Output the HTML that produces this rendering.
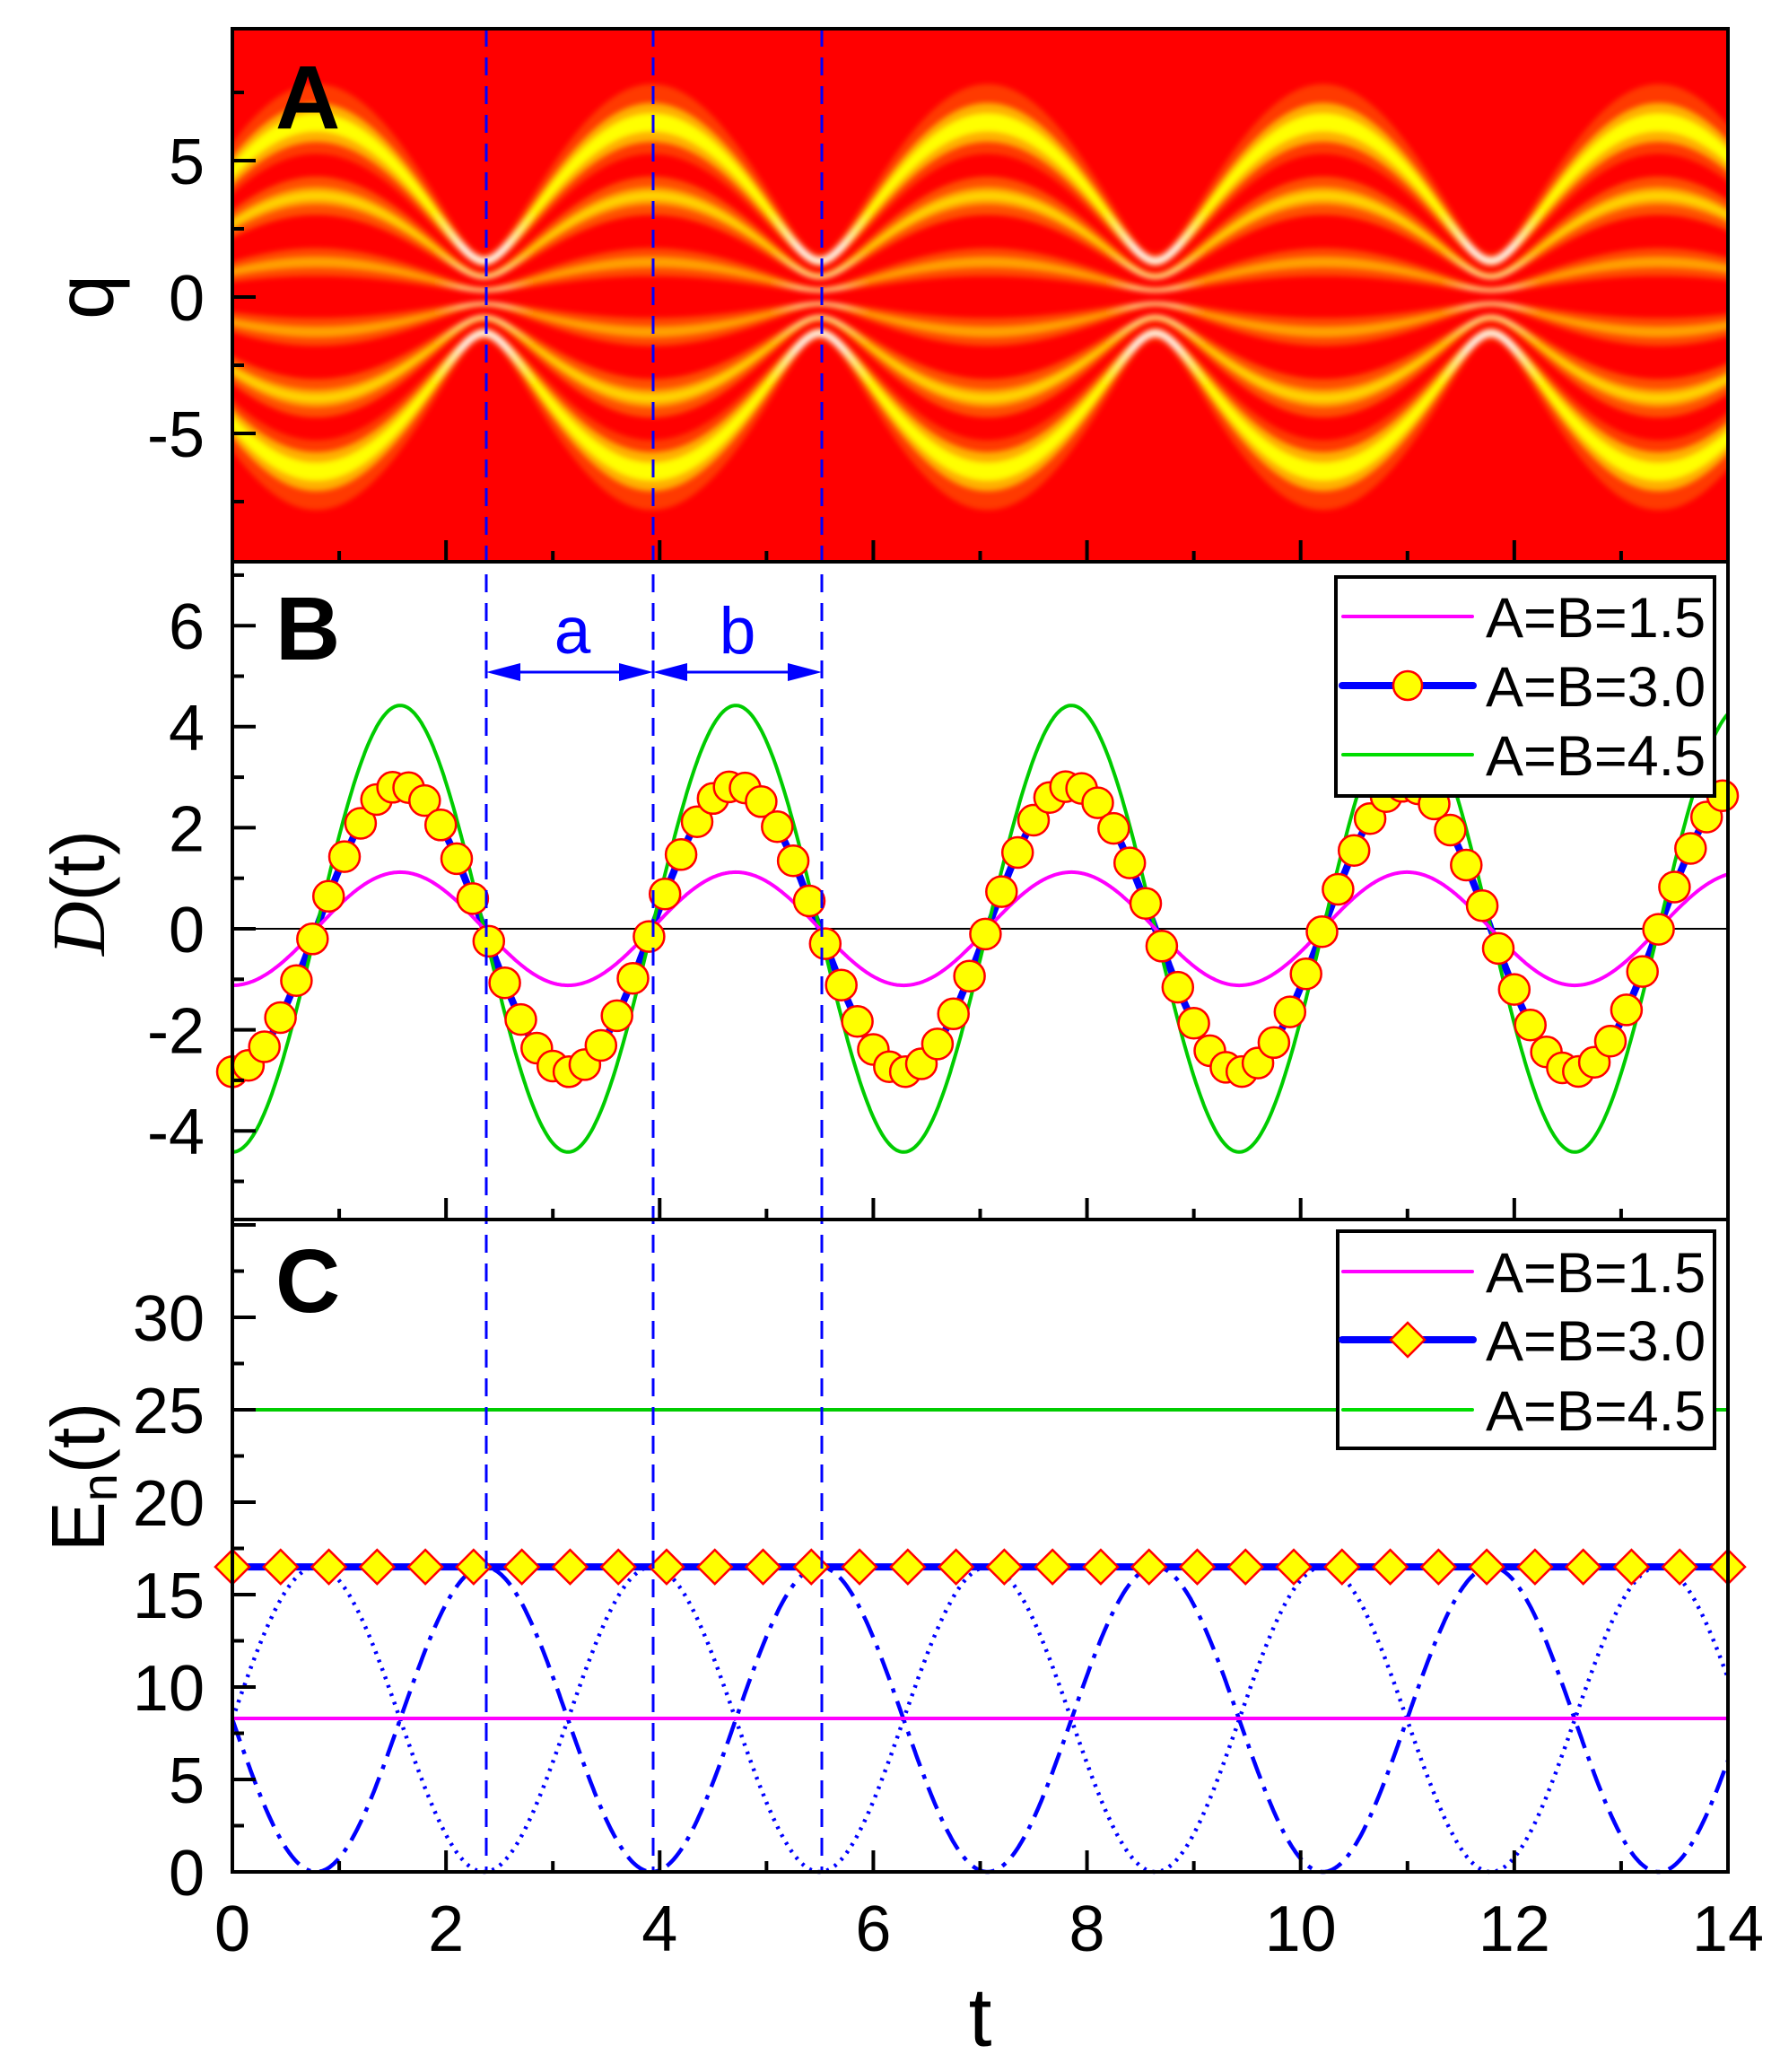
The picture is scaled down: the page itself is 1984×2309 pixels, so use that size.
<!DOCTYPE html>
<html><head><meta charset="utf-8"><style>
html,body{margin:0;padding:0;background:#fff;}
svg{display:block;font-family:"Liberation Sans",Arial,sans-serif;}
</style></head><body>
<svg id="s" width="1984" height="2309" viewBox="0 0 1984 2309" xmlns="http://www.w3.org/2000/svg"></svg>
<script>
const X=t=>259+t*119.07;
const YA=q=>331-q*30.4, YB=v=>1035-v*56.3, YC=v=>2086-v*20.6;
let s='';
s+='<defs><clipPath id="ca"><rect x="259" y="32" width="1667" height="594"/></clipPath><filter id="bl" x="-5%" y="-5%" width="110%" height="110%"><feGaussianBlur stdDeviation="3"/></filter></defs>';
s+='<rect x="259" y="32" width="1667" height="594" fill="#ff0000"/>';
const W=t=>{const sv=(1+Math.sin(2*t))/2;return Math.sqrt(1.32*1.32+(6.4*6.4-1.32*1.32)*sv);};
function band(u,h,col,op){
  let up=[],dn=[];
  for(let t=-0.1;t<=14.1;t+=0.02){const w=W(t);up.push(X(t).toFixed(1)+','+YA((u+h)*w).toFixed(1));dn.unshift(X(t).toFixed(1)+','+YA((u-h)*w).toFixed(1));}
  return '<polygon points="'+up.join(' ')+' '+dn.join(' ')+'" fill="'+col+'" fill-opacity="'+op+'"/>';
}
let g='<g clip-path="url(#ca)"><g filter="url(#bl)">';
for(const sg of [1,-1]){
  g+=band(sg*1.02,0.2,'#ff6000',0.6);
  g+=band(sg*1,0.11,'#ffb000',1);
  g+=band(sg*1,0.05,'#ffff00',1);
  g+=band(sg*0.58,0.11,'#ff7000',0.7);
  g+=band(sg*0.58,0.05,'#ffa000',1);
  g+=band(sg*0.58,0.02,'#ffd800',1);
  g+=band(sg*0.2,0.08,'#ff7000',0.65);
  g+=band(sg*0.2,0.03,'#ffa000',1);
}
for(const u of [1,-1,0.55,-0.55,0.18,-0.18]){
  for(let t=0;t<14;t+=0.03){
    const w1=W(t),w2=W(t+0.03),wm=(w1+w2)/2;
    const op=Math.max(0,Math.min(1,(3.2-wm)/1.4))*(Math.abs(u)>0.9?1:0.8);
    if(op>0.02) g+='<line x1="'+X(t).toFixed(1)+'" y1="'+YA(u*w1).toFixed(1)+'" x2="'+X(t+0.03).toFixed(1)+'" y2="'+YA(u*w2).toFixed(1)+'" stroke="'+(Math.abs(u)>0.9?'#ffffff':'#ffffc0')+'" stroke-width="'+(Math.abs(u)>0.9?5:3)+'" stroke-opacity="'+op.toFixed(2)+'"/>';
  }
}
g+='</g></g>';
s+=g;
function path(f,Y,a,b,st){let d='';for(let t=a;t<=b+1e-9;t+=0.01){d+=(d?'L':'M')+X(t).toFixed(1)+','+Y(f(t)).toFixed(1);}return '<path d="'+d+'" fill="none" '+st+'/>';}
s+='<line x1="259" y1="'+YB(0)+'" x2="1926" y2="'+YB(0)+'" stroke="#000" stroke-width="2"/>';
s+=path(t=>-2.83*Math.cos(2*t),YB,0,14,'stroke="#0000ff" stroke-width="8"');
s+=path(t=>-4.42*Math.cos(2*t),YB,0,14,'stroke="#00cc00" stroke-width="4"');
s+=path(t=>-1.12*Math.cos(2*t),YB,0,14,'stroke="#ff00ff" stroke-width="4"');
for(let k=0;k<=93;k++){const t=k*0.15;s+='<circle cx="'+X(t).toFixed(1)+'" cy="'+YB(-2.83*Math.cos(2*t)).toFixed(1)+'" r="17" fill="#ffff00" stroke="#ff0000" stroke-width="2.5"/>';}
s+=path(t=>8.25*(1+Math.sin(2*t)),YC,0,14,'stroke="#0000ff" stroke-width="4.5" stroke-dasharray="3 7"');
s+=path(t=>8.25*(1-Math.sin(2*t)),YC,0,14,'stroke="#0000ff" stroke-width="4.5" stroke-dasharray="26 10 5 10"');
s+='<line x1="259" y1="'+YC(8.3)+'" x2="1926" y2="'+YC(8.3)+'" stroke="#ff00ff" stroke-width="4"/>';
s+='<line x1="259" y1="'+YC(25)+'" x2="1926" y2="'+YC(25)+'" stroke="#00cc00" stroke-width="4"/>';
s+='<line x1="259" y1="'+YC(16.5)+'" x2="1926" y2="'+YC(16.5)+'" stroke="#0000ff" stroke-width="8"/>';
for(let k=0;k<=31;k++){const x=X(k*14/31),y=YC(16.5);s+='<polygon points="'+x+','+(y-19)+' '+(x+19)+','+y+' '+x+','+(y+19)+' '+(x-19)+','+y+'" fill="#ffff00" stroke="#ff0000" stroke-width="2.5"/>';}
for(const x of [542,728,916]) s+='<line x1="'+x+'" y1="32" x2="'+x+'" y2="2086" stroke="#0000ff" stroke-width="3" stroke-dasharray="20 12"/>';
function arr(x1,x2,y){return '<line x1="'+(x1+30)+'" y1="'+y+'" x2="'+(x2-30)+'" y2="'+y+'" stroke="#0000ff" stroke-width="3"/>'+
 '<polygon points="'+x1+','+y+' '+(x1+38)+','+(y-10)+' '+(x1+38)+','+(y+10)+'" fill="#0000ff"/>'+
 '<polygon points="'+x2+','+y+' '+(x2-38)+','+(y-10)+' '+(x2-38)+','+(y+10)+'" fill="#0000ff"/>';}
s+=arr(542,728,749)+arr(728,916,749);
s+='<text x="638" y="728" font-size="73" fill="#0000ff" text-anchor="middle">a</text>';
s+='<text x="822" y="728" font-size="73" fill="#0000ff" text-anchor="middle">b</text>';
s+='<rect x="259" y="32" width="1667" height="2054" fill="none" stroke="#000" stroke-width="4"/>';
s+='<line x1="259" y1="626" x2="1926" y2="626" stroke="#000" stroke-width="4"/>';
s+='<line x1="259" y1="1359" x2="1926" y2="1359" stroke="#000" stroke-width="4"/>';
function xt(yb){let r='';for(let t=1;t<14;t++){const L=t%2==0?24:12;r+='<line x1="'+X(t)+'" y1="'+yb+'" x2="'+X(t)+'" y2="'+(yb-L)+'" stroke="#000" stroke-width="4"/>';}return r;}
s+=xt(626)+xt(1359)+xt(2086);
function yt(vals,Y,maj){let r='';for(const v of vals){const L=maj(v)?26:13;r+='<line x1="259" y1="'+Y(v)+'" x2="'+(259+L)+'" y2="'+Y(v)+'" stroke="#000" stroke-width="4"/>';}return r;}
s+=yt([-7.5,-5,-2.5,0,2.5,5,7.5],YA,v=>v%5==0);
s+=yt([-5,-4,-3,-2,-1,0,1,2,3,4,5,6,7],YB,v=>v%2==0);
let cv=[];for(let v=2.5;v<=35;v+=2.5)cv.push(v);
s+=yt(cv,YC,v=>v%5==0);
function yl(vals,Y){let r='';for(const v of vals){r+='<text x="228" y="'+(Y(v)+26)+'" font-size="72" text-anchor="end">'+v+'</text>';}return r;}
s+=yl([-5,0,5],YA)+yl([-4,-2,0,2,4,6],YB)+yl([0,5,10,15,20,25,30],YC);
for(let t=0;t<=14;t+=2) s+='<text x="'+X(t)+'" y="2174" font-size="72" text-anchor="middle">'+t+'</text>';
s+='<text x="'+X(7)+'" y="2280" font-size="93" text-anchor="middle">t</text>';
s+='<text transform="translate(126,331) rotate(-90)" font-size="90" text-anchor="middle">q</text>';
s+='<text transform="translate(116,995) rotate(-90)" font-size="84" text-anchor="middle"><tspan font-family="Liberation Serif,serif" font-style="italic">D</tspan>(t)</text>';
s+='<text transform="translate(116,1646) rotate(-90)" font-size="84" text-anchor="middle">E<tspan font-size="56" dy="14">n</tspan><tspan dy="-14">(t)</tspan></text>';
s+='<text x="307" y="143" font-size="100" font-weight="bold">A</text>';
s+='<text x="307" y="735" font-size="100" font-weight="bold">B</text>';
s+='<text x="307" y="1462" font-size="100" font-weight="bold">C</text>';
function leg(x1,x2,y1,y2,rows,mk){let r='<rect x="'+x1+'" y="'+y1+'" width="'+(x2-x1)+'" height="'+(y2-y1)+'" fill="#fff" stroke="#000" stroke-width="4"/>';
 r+='<line x1="1497" y1="'+rows[0]+'" x2="1641" y2="'+rows[0]+'" stroke="#ff00ff" stroke-width="4" stroke-linecap="round"/>';
 r+='<line x1="1496" y1="'+rows[1]+'" x2="1642" y2="'+rows[1]+'" stroke="#0000ff" stroke-width="8" stroke-linecap="round"/>';
 r+=mk(1569,rows[1]);
 r+='<line x1="1497" y1="'+rows[2]+'" x2="1641" y2="'+rows[2]+'" stroke="#00dd00" stroke-width="4" stroke-linecap="round"/>';
 const lab=['A=B=1.5','A=B=3.0','A=B=4.5'];
 for(let i=0;i<3;i++) r+='<text x="1656" y="'+(rows[i]+23)+'" font-size="63">'+lab[i]+'</text>';
 return r;}
s+=leg(1489,1911,643,887,[687,764,841],(x,y)=>'<circle cx="'+x+'" cy="'+y+'" r="16" fill="#ffff00" stroke="#ff0000" stroke-width="2.5"/>');
s+=leg(1491,1911,1372,1614,[1417,1493,1571],(x,y)=>'<polygon points="'+x+','+(y-19)+' '+(x+19)+','+y+' '+x+','+(y+19)+' '+(x-19)+','+y+'" fill="#ffff00" stroke="#ff0000" stroke-width="2.5"/>');
document.getElementById('s').innerHTML=s;
</script>
</body></html>
